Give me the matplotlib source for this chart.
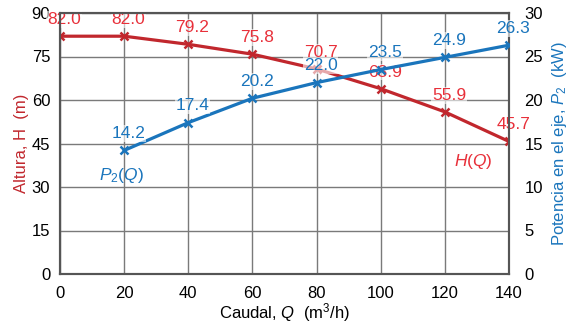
import matplotlib.pyplot as plt

plt.rcParams['font.family'] = ['Liberation Sans', 'DejaVu Sans']
plt.rcParams['mathtext.fontset'] = 'custom'
plt.rcParams['mathtext.it'] = 'Liberation Sans:italic'
plt.rcParams['mathtext.rm'] = 'Liberation Sans'

# Data
q_h = [0, 20, 40, 60, 80, 100, 120, 140]
h = [82.0, 82.0, 79.2, 75.8, 70.7, 63.9, 55.9, 45.7]
q_p = [20, 40, 60, 80, 100, 120, 140]
p2 = [14.2, 17.4, 20.2, 22.0, 23.5, 24.9, 26.3]

red = '#c1272d'
red_txt = '#e8303a'
blue = '#1a75bc'
fs = 12

fig = plt.figure(figsize=(5.68, 3.27), dpi=100)
ax = fig.add_axes([60/568, 1 - 274/327, 449/568, 261/327])
ax2 = ax.twinx()

ax.set_xlim(0, 140)
ax.set_ylim(0, 90)
ax2.set_ylim(0, 30)
ax.set_xticks(range(0, 141, 20))
ax.set_yticks(range(0, 91, 15))
ax2.set_yticks(range(0, 31, 5))
ax.grid(True, color='#7a7a7a', lw=1)
ax.set_axisbelow(True)

ax.plot(q_h, h, color=red, lw=2.3, marker='x', ms=6, mew=1.8, zorder=3)
ax2.plot(q_p, p2, color=blue, lw=2.3, marker='x', ms=6, mew=1.8, zorder=3)

box = dict(boxstyle='square,pad=0.05', fc='white', ec='none', alpha=0.6)
for x, y in zip(q_h, h):
    ax.annotate(f'{y:.1f}', (x, y), xytext=(3, 12), textcoords='offset points',
                ha='center', va='center', color=red_txt, fontsize=12.5, bbox=box,
                zorder=4)
for x, y in zip(q_p, p2):
    ax2.annotate(f'{y:.1f}', (x, y), xytext=(3, 12), textcoords='offset points',
                 ha='center', va='center', color=blue, fontsize=12.5, bbox=box,
                 zorder=4)

ax.text(129, 38.7, '$H$($Q$)', color=red_txt, fontsize=12.5, ha='center', va='center')
ax2.text(19.3, 11.3, '$P_2$($Q$)', color=blue, fontsize=12.5, ha='center', va='center')

for a in (ax, ax2):
    for s in a.spines.values():
        s.set_color('#555555')
        s.set_linewidth(1.5)
    a.tick_params(length=0, labelsize=fs)
ax.tick_params(axis='x', pad=9)
ax.tick_params(axis='y', pad=7)
ax2.tick_params(axis='y', pad=11)

ax.set_xlabel('Caudal, $Q$  (m$^3$/h)', fontsize=fs, labelpad=0)
ax.set_ylabel('Altura, H  (m)', color=red, fontsize=fs, labelpad=2)
ax2.set_ylabel('Potencia en el eje, $P_2$  (kW)', color=blue, fontsize=fs, labelpad=5)

fig.savefig('out.png', dpi=100)
